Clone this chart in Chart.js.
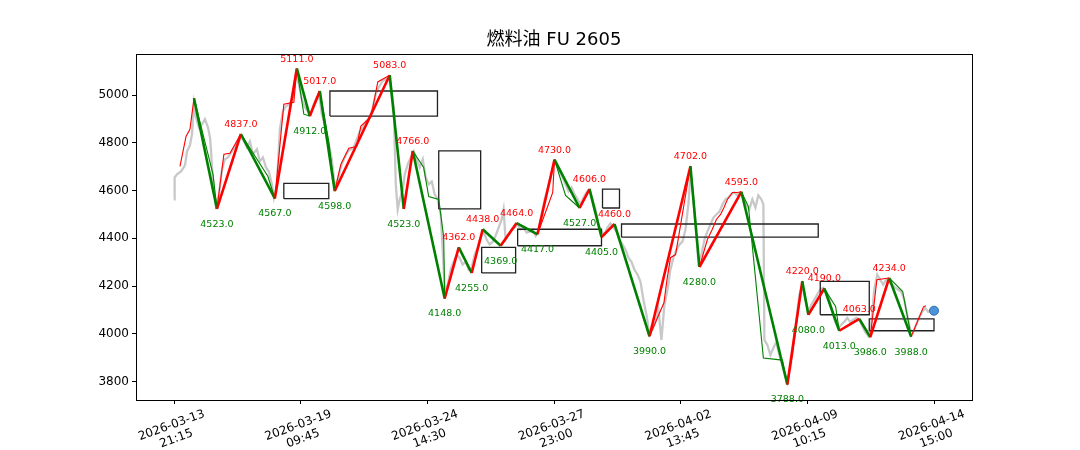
<!DOCTYPE html>
<html>
<head>
<meta charset="utf-8">
<script src="https://cdn.jsdelivr.net/npm/chart.js@4.4.0/dist/chart.umd.min.js"></script>
<style>
  body { margin: 0; background: #fff; }
  canvas { display: block; }
</style>
</head>
<body>
<canvas id="chart" width="1080" height="450"></canvas>
<script>
const TITLE = "燃料油 FU 2605";
const RED = "#ff0000";
const GREEN = "#008000";
const FONT = '"DejaVu Sans", "Noto Sans CJK SC", sans-serif';

// x is bar index, ticks every 100 bars
const tickIdx = [0, 100, 200, 300, 400, 500, 600];
const tickDates = ["2026-03-13", "2026-03-19", "2026-03-24", "2026-03-27", "2026-04-02", "2026-04-09", "2026-04-14"];
const tickTimes = ["21:15", "09:45", "14:30", "23:00", "13:45", "10:15", "15:00"];
const yTicks = [3800, 4000, 4200, 4400, 4600, 4800, 5000];

// grey close line
const greyIdx = [
  0, 0.5, 2.4, 5.5, 8.7, 10.3, 12.6, 14.2, 15.8, 17.3, 19.7, 22.1, 24.4, 26.8, 28.4, 29.2, 30, 31.5, 33.1, 35.5,
  37.9, 40.2, 42.6, 45.7, 48.9, 52, 54.4, 57.6, 59.9, 62.3, 65.5, 67.8, 70.2, 72.6, 74.9, 77.3, 78.9, 81.2, 83.6, 86,
  88.3, 91.5, 93.8, 96.2, 98.6, 100.9, 103.3, 105.7, 108, 110.4, 112.8, 115.1, 116.7, 119.1, 120.7, 122.2, 124.6, 127,
  129.3, 131.7, 134.1, 137.2, 139.6, 142, 144.3, 146.7, 149, 151.4, 154.6, 156.9, 159.3, 161.7, 164.8, 168, 170.3, 171.9,
  173.5, 175.1, 176.6, 178.2, 180.6, 182.2, 184.5, 186.9, 189.3, 191.6, 194, 196.4, 198.7, 201.1, 203.5, 205.8, 208.2,
  210.6, 212.1, 213.7, 216.1, 218.4, 220.8, 223.2, 225.5, 227.9, 230.3, 232.6, 235, 237.4, 239.7, 242.1, 244.5, 246.8,
  249.2, 251.6, 253.9, 256.3, 258.7, 260.2, 261.8, 264.2, 266.5, 268.9, 271.3, 273.6, 276, 278.4, 280.7, 283.1, 285.5, 287.8,
  290.2, 292.6, 294.9, 297.3, 299.7, 302, 304.4, 306.8, 309.1, 311.5, 313.9, 316.2, 318.6, 321, 323.3, 325.7, 328.1,
  330.4, 332.8, 335.1, 337.5, 339.9, 342.2, 344.6, 347, 349.3, 351.7, 354.1, 356.4, 358.8, 361.2, 363.5, 365.9, 368.3,
  370.6, 373, 375.4, 377.7, 380.1, 382.5, 384.8, 387.2, 389.6, 391.9, 394.3, 396.7, 399, 401.4, 403.8, 406.1, 407.7,
  409.3, 411.7, 414, 416.4, 418.8, 421.1, 423.5, 425.9, 428.2, 430.6, 433, 435.3, 437.7, 440.1, 442.4, 444.8, 447.2,
  449.5, 451.9, 454.2, 456.6, 459, 461.3, 463.7, 465.3,
  466.1, 468.4, 470.8, 473.2, 475.5, 477.9, 480.3, 482.6, 484.2, 486.6, 488.9, 491.3, 493.7, 496, 498.4, 500.8, 503.1,
  505.5, 507.8, 510.2, 512.6, 514.9, 517.3, 519.7, 522, 524.4, 526.8, 529.1, 531.5, 533.9, 536.2, 538.6, 541, 543.3,
  545.7, 548.1, 550.4, 552.8, 555.2, 557.5, 559.9, 562.3, 564.6, 567, 569.4, 571.7, 574.1, 576.5, 578.8, 581.2, 583.6,
  585.9, 588.3, 590.6, 593, 595.4, 597.7, 600
];
const greyPrice = [
  4563, 4655, 4668, 4680, 4706, 4764, 4790, 4836, 4962, 4907, 4865, 4878, 4899, 4865, 4823, 4773, 4697, 4605, 4542, 4584,
  4689, 4731, 4739, 4764, 4794, 4827, 4815, 4781, 4806, 4752, 4773, 4722, 4739, 4697, 4680, 4626, 4571, 4626, 4857, 4932,
  4953, 4962, 4991, 5088, 5046, 4983, 4949, 4932, 4920, 4962, 4991, 4983, 4920, 4878, 4815, 4794, 4731, 4613,
  4647, 4697, 4731, 4764, 4773, 4781, 4815, 4848, 4865, 4890, 4907, 4949, 5004, 5033, 5059, 5067, 5059, 5004,
  4949, 4626, 4521, 4563, 4605, 4668, 4710, 4739, 4764, 4731, 4697, 4731, 4655, 4626, 4638, 4584, 4563,
  4500, 4353, 4185, 4206, 4269, 4302, 4332, 4319, 4290, 4302, 4269, 4277, 4332, 4361, 4403, 4428, 4395,
  4374, 4386, 4411, 4445, 4479, 4521, 4395, 4416, 4437, 4445, 4458, 4437, 4445, 4424, 4428, 4437, 4411, 4437,
  4500, 4563, 4605, 4655, 4710, 4710, 4680, 4655, 4626, 4596, 4613, 4584, 4563, 4542, 4571, 4592, 4605,
  4563, 4521, 4458, 4428, 4416, 4445, 4462, 4445, 4428, 4395, 4374, 4353, 4319, 4302, 4269, 4248, 4218,
  4143, 4080, 3996, 4017, 4050, 4101, 3975, 4122, 4185, 4269, 4319, 4353, 4374, 4386, 4437, 4542, 4668,
  4605, 4458, 4302, 4332, 4395, 4428, 4458, 4487, 4500, 4512, 4542, 4563, 4571, 4584, 4592, 4580, 4592,
  4571, 4542, 4521, 4563, 4529, 4580, 4563, 4542,
  3975, 3954, 3912, 3941, 3966, 3912, 3869, 3827, 3798, 3857, 3941, 4059, 4164, 4206, 4143, 4092, 4122,
  4143, 4164, 4185, 4193, 4176, 4143, 4092, 4050, 4025, 4038, 4050, 4067, 4050, 4059, 4067, 4059, 4033,
  4008, 3991, 4038, 4185, 4248, 4227, 4206, 4227, 4218, 4206, 4193, 4185, 4176, 4143, 4080, 4017, 4008,
  4038, 4067, 4092, 4109, 4092, 4101, 4097
];

// main zigzag pivots (first one has no label)
const pivotIdx = [15.8, 33.9, 52.8, 79.6, 97, 107.2, 115.1, 126.9, 170.3, 181.4, 188.5, 213.7, 224.8, 235, 243.7, 257.9,
  270.5, 287, 300.4, 320.2, 328, 337.5, 347.8, 375.4, 407.7, 414.8, 447.9, 484.2, 496, 500.8, 513.4, 525.2, 541, 549.7, 564.6, 582];
const pivotPrice = [4987, 4523, 4837, 4567, 5111, 4912, 5017, 4598, 5083, 4523, 4766, 4148, 4362, 4255, 4438, 4369,
  4464, 4417, 4730, 4527, 4606, 4405, 4460, 3990, 4702, 4280, 4595, 3788, 4220, 4080, 4190, 4013, 4063, 3986, 4234, 3988];

// finer sub-level zigzag
const subIdx = [4.7, 9.5, 12.6, 15.8, 30.8, 33.9, 39.4, 44.2, 52.8, 74.1, 79.6, 86.7, 94.6, 97, 102.5, 107.2, 115.1, 122.2,
  126.9, 131.7, 138, 144.3, 147.5, 155.4, 160.9, 170.3, 181.4, 188.5, 197.1, 201.1, 209, 212.9, 213.7, 224.8, 235, 243.7,
  257.9, 270.5, 287, 299, 300.4, 309.1, 320.2, 328, 337.5, 347.8, 375.4, 386.8, 389.2, 392, 396, 407.7, 414.8, 421.1,
  424.9, 428.2, 431.5, 434.2, 436.9, 440.8, 444.8, 447.9, 453.5, 465.3, 480.3, 484.2, 487.9, 496, 500.8, 513.4, 522.3,
  525.2, 533.9, 541, 549.7, 554.9, 564.6, 575.3, 582, 591.7, 593.6];
const subPrice = [4701, 4827, 4857, 4987, 4668, 4523, 4752, 4756, 4837, 4660, 4567, 4962, 4970, 5111, 4920, 4912, 5017, 4806,
  4598, 4710, 4777, 4785, 4870, 4907, 5055, 5083, 4523, 4766, 4697, 4575, 4563, 4407, 4148, 4362, 4255, 4438,
  4369, 4464, 4417, 4592, 4730, 4580, 4527, 4606, 4405, 4460, 3990, 4130, 4227, 4319, 4332, 4702, 4280, 4395,
  4437, 4479, 4500, 4529, 4563, 4592, 4592, 4595, 4533, 3899, 3890, 3788, 3905, 4220, 4080, 4190, 4115,
  4013, 4042, 4063, 3986, 4227, 4234, 4177, 3988, 4113, 4118];

// boxes: start/end bar, low/high price
const boxStart = [86.7, 123.1, 209, 242.9, 271.3, 338.3, 353.3, 510.2, 548.9];
const boxEnd = [122.2, 208, 242.1, 269.7, 337.5, 351.7, 508.6, 548.9, 600];
const boxLow = [4566, 4912, 4523, 4255, 4369, 4527, 4405, 4080, 4013];
const boxHigh = [4630, 5017, 4766, 4362, 4438, 4606, 4460, 4220, 4063];

const lastIdx = 600;
const lastPrice = 4097;

function pts(xs, ys) {
  return xs.map((x, i) => ({ x, y: ys[i] }));
}

const upDown = (ctx) => (ctx.p1.parsed.y >= ctx.p0.parsed.y ? RED : GREEN);

const datasets = [];
datasets.push({
  data: pts(greyIdx, greyPrice),
  borderColor: "#c8c8c8",
  borderWidth: 2.3,
  pointRadius: 0,
  order: 5,
});
boxStart.forEach((s, i) => {
  const e = boxEnd[i];
  datasets.push({
    data: [
      { x: s, y: boxLow[i] }, { x: e, y: boxLow[i] }, { x: e, y: boxHigh[i] },
      { x: s, y: boxHigh[i] }, { x: s, y: boxLow[i] },
    ],
    borderColor: "#222222",
    borderWidth: 1.3,
    pointRadius: 0,
    order: 4,
  });
});
datasets.push({
  data: pts(subIdx, subPrice),
  borderWidth: 1.1,
  pointRadius: 0,
  segment: { borderColor: upDown },
  order: 2,
});
datasets.push({
  data: pts(pivotIdx, pivotPrice),
  borderWidth: 2.6,
  pointRadius: 0,
  segment: { borderColor: upDown },
  order: 3,
});
datasets.push({
  data: [{ x: lastIdx, y: lastPrice }],
  showLine: false,
  pointRadius: 4.5,
  pointBackgroundColor: "#4d93d6",
  pointBorderColor: "#2c6fb3",
  pointBorderWidth: 1,
  order: 0,
});

const decorPlugin = {
  id: "decor",
  afterDatasetsDraw(chart) {
    const { ctx, scales: { x, y } } = chart;
    ctx.save();
    ctx.font = "9.5px " + FONT;
    ctx.textAlign = "center";
    ctx.textBaseline = "middle";
    for (let i = 1; i < pivotIdx.length; i++) {
      const high = pivotPrice[i] > pivotPrice[i - 1];
      const px = x.getPixelForValue(pivotIdx[i]);
      const py = y.getPixelForValue(pivotPrice[i]);
      ctx.fillStyle = high ? RED : GREEN;
      ctx.fillText(pivotPrice[i].toFixed(1), px, high ? py - 9.5 : py + 15.5);
    }
    ctx.restore();
  },
  afterDraw(chart) {
    const { ctx, chartArea: a, scales: { x } } = chart;
    ctx.save();
    // frame
    ctx.strokeStyle = "#000";
    ctx.lineWidth = 1;
    ctx.strokeRect(a.left + 0.5, a.top + 0.5, a.right - a.left, a.bottom - a.top);
    // title
    ctx.fillStyle = "#000";
    ctx.font = "18px " + FONT;
    ctx.textAlign = "center";
    ctx.textBaseline = "middle";
    ctx.fillText(TITLE, (a.left + a.right) / 2, 40);
    // rotated two-line date labels
    ctx.font = "12px " + FONT;
    const lh = 14;
    const th = (20 * Math.PI) / 180;
    tickIdx.forEach((v, i) => {
      const lines = [tickDates[i], tickTimes[i]];
      const w = Math.max(...lines.map((s) => ctx.measureText(s).width));
      const h = lines.length * lh;
      const H = w * Math.sin(th) + h * Math.cos(th);
      const cx = x.getPixelForValue(v);
      const cy = a.bottom + 7 + H / 2;
      ctx.save();
      ctx.translate(cx, cy);
      ctx.rotate(-th);
      lines.forEach((s, j) => ctx.fillText(s, 0, -h / 2 + lh * (j + 0.5)));
      ctx.restore();
    });
    ctx.restore();
  },
};

new Chart(document.getElementById("chart"), {
  type: "line",
  data: { datasets },
  options: {
    responsive: false,
    animation: false,
    devicePixelRatio: 1,
    layout: { padding: { left: 0, right: 108, top: 54, bottom: 0 } },
    elements: { line: { tension: 0 } },
    plugins: { legend: { display: false }, tooltip: { enabled: false }, title: { display: false } },
    scales: {
      x: {
        type: "linear",
        min: -30,
        max: 630,
        afterBuildTicks: (scale) => { scale.ticks = tickIdx.map((v) => ({ value: v })); },
        afterFit: (scale) => { scale.height = 50; },
        ticks: { autoSkip: false, maxRotation: 0, callback: () => "" },
        grid: { drawOnChartArea: false, drawTicks: true, tickLength: 4, color: "#000" },
        border: { color: "#000", width: 1 },
      },
      y: {
        type: "linear",
        min: 3723,
        max: 5172,
        afterBuildTicks: (scale) => { scale.ticks = yTicks.map((v) => ({ value: v })); },
        afterFit: (scale) => { scale.width = 136; },
        ticks: { color: "#000", font: { family: FONT, size: 12 }, padding: 3, callback: (v) => String(v) },
        grid: { drawOnChartArea: false, drawTicks: true, tickLength: 4, color: "#000" },
        border: { color: "#000", width: 1 },
      },
    },
  },
  plugins: [decorPlugin],
});
</script>
</body>
</html>
